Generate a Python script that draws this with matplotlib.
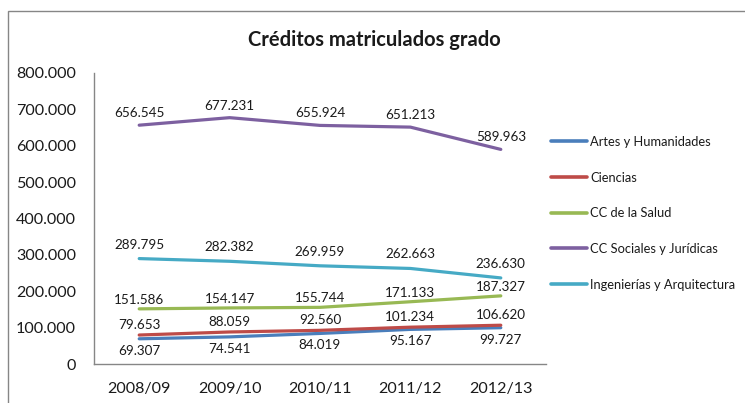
import matplotlib.pyplot as plt
from matplotlib.patches import Rectangle

plt.rcParams['font.family'] = ['Lato', 'DejaVu Sans']

years = ['2008/09', '2009/10', '2010/11', '2011/12', '2012/13']
artes = [69307, 74541, 84019, 95167, 99727]
ciencias = [79653, 88059, 92560, 101234, 106620]
salud = [151586, 154147, 155744, 171133, 187327]
sociales = [656545, 677231, 655924, 651213, 589963]
ingenieria = [289795, 282382, 269959, 262663, 236630]

names = ['Artes y Humanidades', 'Ciencias', 'CC de la Salud',
         'CC Sociales y Jurídicas', 'Ingenierías y Arquitectura']
colors = ['#4a7ebb', '#be4b48', '#98b954', '#7d60a0', '#46aac5']
# label offset (px) above / below point
offsets = [-12, 10, 9, 12, 14]


def fmt(v):
    return f"{v:,}".replace(',', '.')


fig = plt.figure(figsize=(7.45, 4.03), dpi=100)
fig.patches.append(Rectangle((8 / 745, -0.05), 1.0, 1.05 - 11 / 403,
                             transform=fig.transFigure, fill=False,
                             edgecolor='#868686', linewidth=1.0))
ax = fig.add_axes([94 / 745, 1 - 364 / 403, (546 - 94) / 745, (364 - 73) / 403])

x = range(len(years))
for vals, name, c, off in zip([artes, ciencias, salud, sociales, ingenieria],
                              names, colors, offsets):
    ax.plot(x, vals, color=c, linewidth=2.3, label=name, solid_capstyle='round')
    for xi, v in zip(x, vals):
        ax.annotate(fmt(v), (xi, v), xytext=(0, off * 0.72), textcoords='offset points',
                    ha='center', va='center', fontsize=9.7, color='#1a1a1a')

ax.set_xlim(-0.5, 4.5)
ax.set_ylim(0, 800000)
ax.set_xticks(list(x))
ax.set_xticklabels(years)
yt = list(range(0, 800001, 100000))
ax.set_yticks(yt)
ax.set_yticklabels([fmt(v) for v in yt])
ax.tick_params(axis='both', length=0, labelsize=11.6, colors='#1a1a1a')
ax.tick_params(axis='x', pad=13)
ax.tick_params(axis='y', pad=13)
for s in ['top', 'right']:
    ax.spines[s].set_visible(False)
for s in ['left', 'bottom']:
    ax.spines[s].set_color('#868686')
    ax.spines[s].set_linewidth(1.0)

fig.text(374 / 745, 1 - 40 / 403, 'Créditos matriculados grado', ha='center', va='center',
         fontsize=14.5, fontweight='bold', color='#1a1a1a')

leg = ax.legend(loc='upper left', bbox_to_anchor=(551 / 745, 1 - 136 / 403),
                bbox_transform=fig.transFigure, frameon=False, fontsize=9.3,
                handlelength=2.75, handletextpad=0.3, labelspacing=1.83,
                borderpad=0, borderaxespad=0)
for t in leg.get_texts():
    t.set_color('#1a1a1a')
for h in leg.get_lines():
    h.set_linewidth(2.6)

fig.savefig('out.png', dpi=100)
